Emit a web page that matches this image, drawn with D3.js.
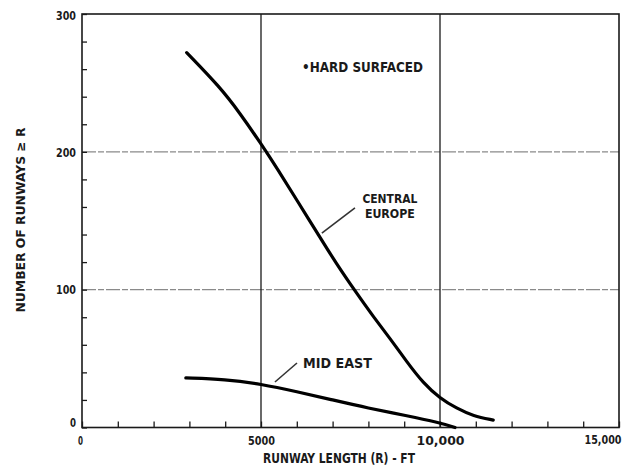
<!DOCTYPE html>
<html>
<head>
<meta charset="utf-8">
<script src="https://cdn.jsdelivr.net/npm/d3@7"></script>
<style>
  html, body { margin: 0; padding: 0; background: #fff; }
  svg text { font-family: "Liberation Sans Narrow", "DejaVu Sans Condensed", "DejaVu Sans", sans-serif; font-weight: bold; fill: #1a1a1a; }
</style>
</head>
<body>
<svg id="chart" width="627" height="470"></svg>
<script>
// ---- data ----
const ceLength  = [2924, 3854, 4413, 4972, 5500, 6000, 6600, 7100, 7672, 8137, 8603, 9069, 9534, 9999, 10465, 10930, 11488];
const ceRunways = [272,  247,  228,  207,  186,  165,  140,  119,  97.4, 80.4, 64.7, 47.8, 32.1, 21.2, 13.9,  8.3,   5.4];
const meLength  = [2900, 4000, 5000, 6000, 7000, 8000, 9000, 10000, 10420];
const meRunways = [36,   35,   31.5, 26,   20,   14,   9,    3.5,   0];
const xTickValues = [0, 5000, 10000, 15000];
const xTickLabels = ["0", "5000", "10,000", "15,000"];
const yTickValues = [0, 100, 200, 300];
const yTickLabels = ["0", "100", "200", "300"];
const xMinorStep = 1000, yMinorStep = 20;
const xTitle = "RUNWAY LENGTH (R) - FT";
const yTitle = "NUMBER OF RUNWAYS \u2265 R";
const noteText = "\u2022HARD SURFACED";
const ceLabel = ["CENTRAL", "EUROPE"];
const meLabel = "MID EAST";

// ---- layout ----
const svg = d3.select("#chart");
const m = { left: 82, right: 619, top: 14, bottom: 427.5 };
const x = d3.scaleLinear().domain([0, 15000]).range([m.left, m.right]);
const y = d3.scaleLinear().domain([0, 300]).range([m.bottom, m.top]);
const ink = "#1a1a1a";

// horizontal grid (light, broken)
svg.append("g").selectAll("line").data([100, 200]).join("line")
  .attr("x1", m.left).attr("x2", m.right)
  .attr("y1", d => y(d)).attr("y2", d => y(d))
  .attr("stroke", "#8a8a8a").attr("stroke-width", 1.2)
  .attr("stroke-dasharray", "14,2,6,2");

// vertical grid (dark)
svg.append("g").selectAll("line").data([5000, 10000]).join("line")
  .attr("x1", d => x(d)).attr("x2", d => x(d))
  .attr("y1", m.top).attr("y2", m.bottom)
  .attr("stroke", ink).attr("stroke-width", 1.3);

// frame
svg.append("rect").attr("x", m.left).attr("y", m.top)
  .attr("width", m.right - m.left).attr("height", m.bottom - m.top)
  .attr("fill", "none").attr("stroke", ink).attr("stroke-width", 1.6);

// minor ticks (inward)
const xMinor = d3.range(0, 15001, xMinorStep);
const yMinor = d3.range(0, 301, yMinorStep);
const xAxisMinor = svg.append("g").attr("transform", `translate(0,${m.bottom})`)
  .call(d3.axisTop(x).tickValues(xMinor).tickSize(6).tickFormat(""));
xAxisMinor.select(".domain").remove();
xAxisMinor.selectAll("line").attr("stroke", ink).attr("stroke-width", 1.3);
const yAxisMinor = svg.append("g").attr("transform", `translate(${m.left},0)`)
  .call(d3.axisRight(y).tickValues(yMinor).tickSize(5).tickFormat(""));
yAxisMinor.select(".domain").remove();
yAxisMinor.selectAll("line").attr("stroke", ink).attr("stroke-width", 1.3);

// tick labels
const xLabW = [5, 27, 48, 37];
const last = xTickValues.length - 1;
const xAxis = svg.append("g").attr("transform", `translate(0,${m.bottom})`)
  .call(d3.axisBottom(x).tickValues(xTickValues).tickSize(0).tickPadding(8)
    .tickFormat((d, i) => xTickLabels[i]));
xAxis.select(".domain").remove();
xAxis.selectAll("text").style("font-size", (d, i) => i === last ? "12px" : "13px").attr("fill", ink)
  .attr("textLength", (d, i) => xLabW[i]).attr("lengthAdjust", "spacingAndGlyphs")
  .attr("text-anchor", (d, i) => i === last ? "end" : "middle")
  .attr("dx", (d, i) => i === last ? 2 : (i === 0 ? -2 : 0));

const yLabW = [6, 20, 20, 20];
const yAxis = svg.append("g").attr("transform", `translate(${m.left},0)`)
  .call(d3.axisLeft(y).tickValues(yTickValues).tickSize(0).tickPadding(6)
    .tickFormat((d, i) => yTickLabels[i]));
yAxis.select(".domain").remove();
yAxis.selectAll("text").style("font-size", "13px").attr("fill", ink)
  .attr("textLength", (d, i) => yLabW[i]).attr("lengthAdjust", "spacingAndGlyphs")
  .attr("dy", (d, i) => i === 0 ? "-0.1em" : (i === yTickValues.length - 1 ? "0.45em" : "0.32em"));

// axis titles
svg.append("text").attr("x", 339).attr("y", 463)
  .attr("text-anchor", "middle").style("font-size", "13.5px")
  .attr("textLength", 152).attr("lengthAdjust", "spacingAndGlyphs")
  .text(xTitle);
svg.append("text")
  .attr("transform", `translate(25,${220}) rotate(-90)`)
  .attr("text-anchor", "middle").style("font-size", "13px")
  .attr("textLength", 185).attr("lengthAdjust", "spacingAndGlyphs")
  .text(yTitle);

// curves
const line = d3.line().curve(d3.curveBasis)
  .x(d => x(d[0])).y(d => y(d[1]));
svg.append("path").datum(d3.zip(ceLength, ceRunways))
  .attr("d", line).attr("fill", "none").attr("stroke", "#000")
  .attr("stroke-width", 3.2).attr("stroke-linecap", "round");
svg.append("path").datum(d3.zip(meLength, meRunways))
  .attr("d", line).attr("fill", "none").attr("stroke", "#000")
  .attr("stroke-width", 3.2).attr("stroke-linecap", "round");

// annotations
svg.append("text").attr("x", x(6145)).attr("y", y(258))
  .style("font-size", "13.5px")
  .attr("textLength", 121).attr("lengthAdjust", "spacingAndGlyphs")
  .text(noteText);

const ceW = [55, 50];
const ceT = svg.append("text").attr("y", y(163))
  .attr("text-anchor", "middle").style("font-size", "13px");
ceT.selectAll("tspan").data(ceLabel).join("tspan")
  .attr("x", x(8600)).attr("dy", (d, i) => i === 0 ? 0 : 15)
  .attr("textLength", (d, i) => ceW[i]).attr("lengthAdjust", "spacingAndGlyphs")
  .text(d => d);
svg.append("line")
  .attr("x1", x(7625)).attr("y1", y(159.3))
  .attr("x2", x(6700)).attr("y2", y(141))
  .attr("stroke", "#333").attr("stroke-width", 1.6);

svg.append("text").attr("x", x(6172)).attr("y", y(43.2))
  .style("font-size", "13.5px")
  .attr("textLength", 69).attr("lengthAdjust", "spacingAndGlyphs")
  .text(meLabel);
svg.append("line")
  .attr("x1", x(6005)).attr("y1", y(46.8))
  .attr("x2", x(5390)).attr("y2", y(33))
  .attr("stroke", "#333").attr("stroke-width", 1.6);
</script>
</body>
</html>
